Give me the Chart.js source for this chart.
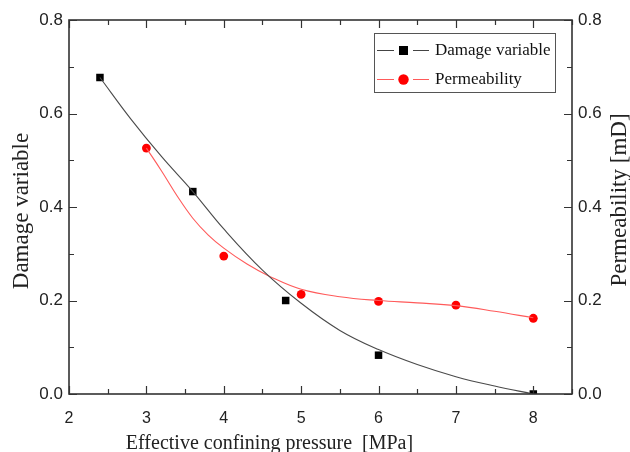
<!DOCTYPE html>
<html>
<head>
<meta charset="utf-8">
<script src="https://cdn.jsdelivr.net/npm/chart.js@4"></script>
<style>
html,body{margin:0;padding:0;background:#fff;}
#wrap{width:630px;height:452px;}
</style>
</head>
<body>
<div id="wrap"><canvas id="c" width="630" height="452"></canvas></div>
<script>
// ---- data ----
const damageX = [2.4, 3.6, 4.8, 6, 8];
const damageY = [0.677, 0.433, 0.200, 0.083, 0.0];
const permX = [3, 4, 5, 6, 7, 8];
const permY = [0.526, 0.295, 0.213, 0.198, 0.190, 0.162];
// fitted curves
const damageFitX = [2.4, 2.8, 3.2, 3.6, 4.0, 4.5, 5.0, 5.5, 6.0, 6.5, 7.0, 7.5, 8.0];
const damageFitY = [0.677, 0.588, 0.507, 0.433, 0.353, 0.265, 0.194, 0.136, 0.095, 0.063, 0.037, 0.017, 0.0];
const permFitX = [3.0, 3.2, 3.4, 3.6, 3.8, 4.0, 4.3, 4.6, 5.0, 5.5, 6.0, 6.5, 7.0, 7.5, 8.0];
const permFitY = [0.526, 0.476, 0.423, 0.376, 0.340, 0.312, 0.278, 0.251, 0.224, 0.208, 0.200, 0.195, 0.189, 0.177, 0.163];
const xTickLabels = ['2', '3', '4', '5', '6', '7', '8'];
const seriesNames = ['Damage variable', 'Permeability'];
const xTitle = 'Effective confining pressure  [MPa]';
const yTitle = 'Damage variable';
const y2Title = 'Permeability [mD]';

const pts = (xs, ys) => xs.map((x, i) => ({x: x, y: ys[i]}));

const AXIS = '#333';
const frame = {
  id: 'frame',
  afterDraw(chart) {
    const ctx = chart.ctx, a = chart.chartArea;
    const sx = chart.scales.x, sy = chart.scales.y, sy2 = chart.scales.y2;
    ctx.save();
    ctx.strokeStyle = AXIS;
    ctx.lineWidth = 1.6;
    ctx.strokeRect(a.left, a.top, a.right - a.left, a.bottom - a.top);
    ctx.lineWidth = 1.2;
    ctx.beginPath();
    for (let v = 2; v <= 8.5001; v += 0.5) {
      const px = Math.round(sx.getPixelForValue(v)) + 0.5;
      const len = Math.abs(v - Math.round(v)) < 1e-6 ? 8 : 5;
      ctx.moveTo(px, a.bottom); ctx.lineTo(px, a.bottom - len);
      ctx.moveTo(px, a.top); ctx.lineTo(px, a.top + len);
    }
    for (let v = 0; v <= 0.8001; v += 0.1) {
      const major = Math.abs(v * 5 - Math.round(v * 5)) < 1e-6;
      const len = major ? 8 : 5;
      const py = Math.round(sy.getPixelForValue(v)) + 0.5;
      ctx.moveTo(a.left, py); ctx.lineTo(a.left + len, py);
      const py2 = Math.round(sy2.getPixelForValue(v)) + 0.5;
      ctx.moveTo(a.right, py2); ctx.lineTo(a.right - len, py2);
    }
    ctx.stroke();

    // axis titles
    ctx.fillStyle = '#222';
    ctx.font = '20px "Liberation Serif", "Times New Roman", serif';
    ctx.textAlign = 'center';
    ctx.textBaseline = 'alphabetic';
    ctx.fillText(xTitle, (a.left + a.right) / 2 - 51, 449);
    ctx.font = '23px "Liberation Serif", "Times New Roman", serif';
    ctx.save();
    ctx.translate(28, 211);
    ctx.rotate(-Math.PI / 2);
    ctx.fillText(yTitle, 0, 0);
    ctx.restore();
    ctx.save();
    ctx.translate(626, 200);
    ctx.rotate(-Math.PI / 2);
    ctx.fillText(y2Title, 0, 0);
    ctx.restore();

    // legend
    const lx = 374, ly = 33, lw = 181, lh = 59;
    ctx.fillStyle = '#fff';
    ctx.fillRect(lx, ly, lw, lh);
    ctx.strokeStyle = '#555';
    ctx.lineWidth = 1;
    ctx.strokeRect(lx + 0.5, ly + 0.5, lw, lh);
    const rows = [
      {y: 50, line: '#444', fill: '#000', shape: 'rect', label: seriesNames[0]},
      {y: 79, line: '#ff5a5a', fill: '#ff0000', shape: 'circle', label: seriesNames[1]}
    ];
    rows.forEach(r => {
      ctx.strokeStyle = r.line;
      ctx.lineWidth = 1;
      ctx.beginPath();
      ctx.moveTo(377, r.y + 0.5); ctx.lineTo(394, r.y + 0.5);
      ctx.moveTo(413, r.y + 0.5); ctx.lineTo(429, r.y + 0.5);
      ctx.stroke();
      ctx.fillStyle = r.fill;
      if (r.shape === 'rect') {
        ctx.fillRect(399, r.y - 4, 9, 9);
      } else {
        ctx.beginPath(); ctx.arc(403.5, r.y + 0.5, 5.2, 0, Math.PI * 2); ctx.fill();
      }
      ctx.fillStyle = '#111';
      ctx.font = '17px "Liberation Serif", "Times New Roman", serif';
      ctx.textAlign = 'left';
      ctx.textBaseline = 'middle';
      ctx.fillText(r.label, 435, r.y + 1);
    });
    ctx.restore();
  }
};

new Chart(document.getElementById('c'), {
  type: 'scatter',
  data: {
    datasets: [
      {label: seriesNames[0] + ' fit', data: pts(damageFitX, damageFitY), showLine: true,
       borderColor: '#4a4a4a', borderWidth: 1.1, pointRadius: 0, tension: 0.4, yAxisID: 'y'},
      {label: seriesNames[0], data: pts(damageX, damageY), showLine: false,
       pointStyle: 'rect', pointRadius: 5.3, backgroundColor: '#000', borderColor: '#000', borderWidth: 0, yAxisID: 'y'},
      {label: seriesNames[1] + ' fit', data: pts(permFitX, permFitY), showLine: true,
       borderColor: '#ff5a5a', borderWidth: 1.1, pointRadius: 0, tension: 0.4, yAxisID: 'y2'},
      {label: seriesNames[1], data: pts(permX, permY), showLine: false,
       pointStyle: 'circle', pointRadius: 4.4, backgroundColor: '#ff0000', borderColor: '#ff0000', borderWidth: 0, yAxisID: 'y2'}
    ]
  },
  options: {
    responsive: false,
    animation: false,
    layout: {padding: {top: 20, left: 0, right: 0, bottom: 0}},
    plugins: {legend: {display: false}, tooltip: {enabled: false}},
    scales: {
      x: {
        type: 'linear', min: 2, max: 8.5,
        afterFit: s => { s.height = 58; },
        afterBuildTicks: s => { s.ticks = xTickLabels.map(t => ({value: Number(t)})); },
        grid: {display: false, drawTicks: false}, border: {display: false},
        ticks: {padding: 15, color: '#222', font: {family: '"Liberation Sans", Arial, sans-serif', size: 16},
                callback: v => String(v)}
      },
      y: {
        type: 'linear', position: 'left', min: 0, max: 0.8,
        afterFit: s => { s.width = 69; },
        grid: {display: false, drawTicks: false}, border: {display: false},
        ticks: {stepSize: 0.2, padding: 6, color: '#222', font: {family: '"Liberation Sans", Arial, sans-serif', size: 17},
                callback: v => Number(v).toFixed(1)}
      },
      y2: {
        type: 'linear', position: 'right', min: 0, max: 0.8,
        afterFit: s => { s.width = 58; },
        grid: {display: false, drawTicks: false}, border: {display: false},
        ticks: {stepSize: 0.2, padding: 6, color: '#222', font: {family: '"Liberation Sans", Arial, sans-serif', size: 17},
                callback: v => Number(v).toFixed(1)}
      }
    }
  },
  plugins: [frame]
});
</script>
</body>
</html>
